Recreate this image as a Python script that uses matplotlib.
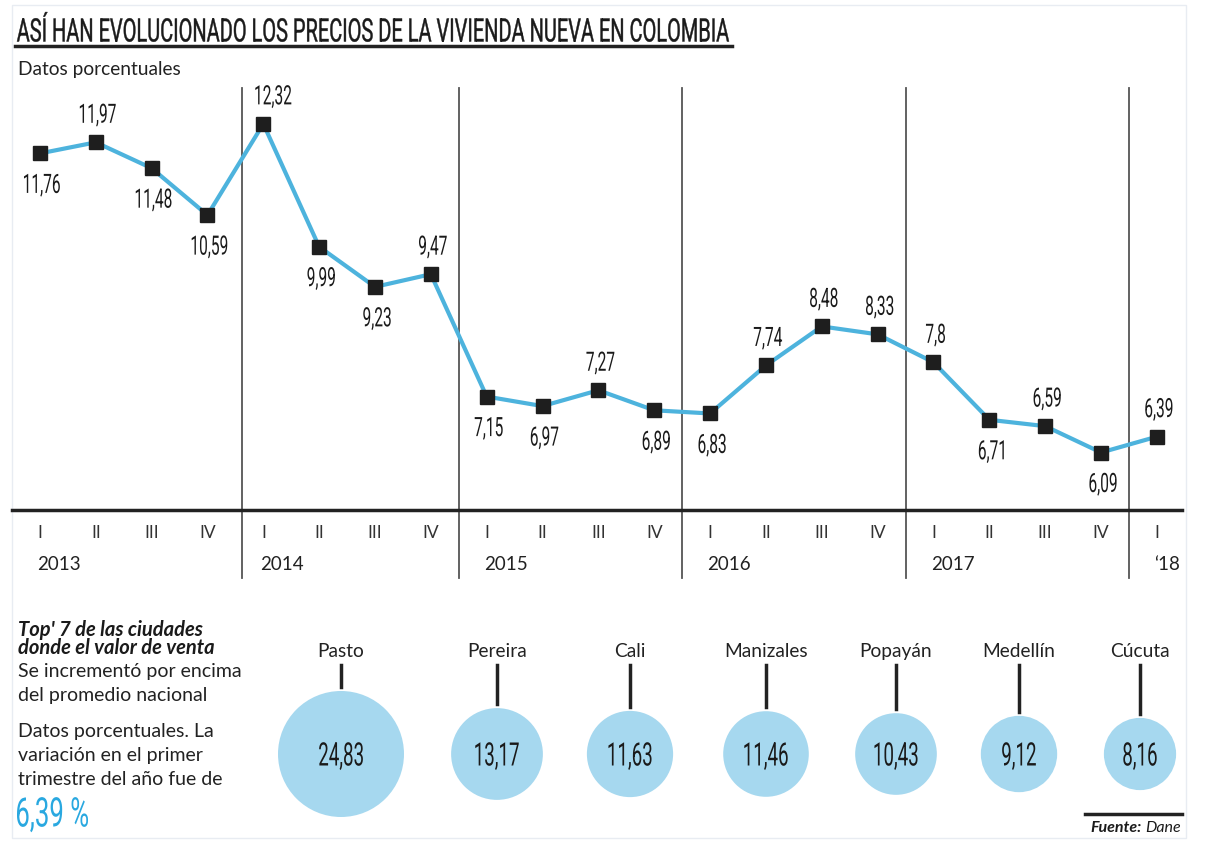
import matplotlib
matplotlib.use("Agg")
import matplotlib.pyplot as plt
from matplotlib.patches import Circle, PathPatch
from matplotlib.textpath import TextPath
from matplotlib.font_manager import FontProperties
from matplotlib.transforms import Affine2D
import numpy as np

# quarterly variation, new housing prices (%)
quarters = ['I', 'II', 'III', 'IV'] * 5 + ['I']
years = ['2013', '2014', '2015', '2016', '2017', '\u201818']
values = [11.76, 11.97, 11.48, 10.59, 12.32, 9.99, 9.23, 9.47, 7.15, 6.97,
          7.27, 6.89, 6.83, 7.74, 8.48, 8.33, 7.8, 6.71, 6.59, 6.09, 6.39]
labels = ['11,76', '11,97', '11,48', '10,59', '12,32', '9,99', '9,23', '9,47', '7,15', '6,97',
          '7,27', '6,89', '6,83', '7,74', '8,48', '8,33', '7,8', '6,71', '6,59', '6,09', '6,39']
above = [False, True, False, False, True, False, False, True, False, False,
         True, False, False, True, True, True, True, False, True, False, True]

# top 7 cities
cities = ['Pasto', 'Pereira', 'Cali', 'Manizales', 'Popayán', 'Medellín', 'Cúcuta']
city_values = [24.83, 13.17, 11.63, 11.46, 10.43, 9.12, 8.16]
city_labels = ['24,83', '13,17', '11,63', '11,46', '10,43', '9,12', '8,16']

SANS = ['Lato', 'DejaVu Sans']
BLUE = '#4DB3DD'
BUBBLE = '#A6D8EF'
INK = '#1a1a1a'

W, H = 1207, 863
fig = plt.figure(figsize=(W / 100, H / 100), dpi=100)

# background layer in pixel coords (y goes down)
bg = fig.add_axes([0, 0, 1, 1])
bg.set_xlim(0, W)
bg.set_ylim(H, 0)
bg.axis('off')


# condensed text: squeeze a Roboto text path horizontally
def cond_text(x, y, s, cap, color=INK, ha='center', sx=0.58, width=None, lw=0.0):
    em = cap / 0.711
    tp = TextPath((0, 0), s, size=em, prop=FontProperties(family='Roboto'))
    ext = tp.get_extents()
    k = sx if width is None else width / ext.width
    if ha == 'center':
        ox = -(ext.x0 + ext.width / 2) * k
    elif ha == 'left':
        ox = -ext.x0 * k
    else:
        ox = -ext.x1 * k
    tr = Affine2D().scale(k, -1).translate(x + ox, y + cap / 2)
    bg.add_patch(PathPatch(tr.transform_path(tp), fc=color, ec=color, lw=lw, zorder=5))


bg.add_patch(plt.Rectangle((12, 5), 1174, 833, fill=False, ec='#E8ECF2', lw=1))

cond_text(17, 30, 'ASÍ HAN EVOLUCIONADO LOS PRECIOS DE LA VIVIENDA NUEVA EN COLOMBIA',
          23, ha='left', width=712, lw=0.3)
bg.plot([15, 732], [46, 46], color='#222222', lw=2.5)
bg.text(18, 70, 'Datos porcentuales', family=SANS, fontsize=13.8, color='#222', va='center')

# line chart
ax = fig.add_axes([12 / W, 1 - 510 / H, 1170 / W, 422 / H])
x = np.arange(len(values))
ax.plot(x, values, color=BLUE, lw=3, zorder=2)
ax.plot(x, values, ls='none', marker='s', ms=9.5, color='#1e1e1e', zorder=3)
ax.set_xlim(-0.5, 20.45)
ax.set_ylim(5, 13)
for s in ['top', 'left', 'right']:
    ax.spines[s].set_visible(False)
ax.spines['bottom'].set_linewidth(2.5)
ax.spines['bottom'].set_color('#222222')
ax.set_xticks([])
ax.set_yticks([])
ax.patch.set_alpha(0)

# data labels placed in pixel space from the axes' own transform
for i, (v, lab, up) in enumerate(zip(values, labels, above)):
    px, py = ax.transData.transform((i, v))
    py = H - py
    dx = 10 if i == 4 else 2
    dy = -29 if up else 30
    cond_text(px + dx, py + dy, lab, 19)

for i, q in enumerate(quarters):
    ax.text(i, -0.055, q, transform=ax.get_xaxis_transform(), ha='center', va='center',
            family=SANS, fontsize=12.5, color='#333333')

for k, yr in enumerate(years):
    ax.text(4 * k - 0.05, -0.13, yr, transform=ax.get_xaxis_transform(), ha='left', va='center',
            family=SANS, fontsize=13.5, color='#222222')

for k in range(5):
    xd = 4 * k + 3.5 + (0.12 if k == 0 else 0)
    ax.axvline(xd, ymin=-0.161, ymax=1, color='#555555', lw=1.3, clip_on=False, zorder=1)

# left text block
for yy, line in [(630, "Top' 7 de las ciudades"), (648, 'donde el valor de venta')]:
    bg.text(18, yy, line, family=SANS, fontsize=14.5, weight='bold',
            style='italic', color=INK, va='center')
for yy, line in [(671, 'Se incrementó por encima'), (695, 'del promedio nacional'),
                 (731, 'Datos porcentuales. La'), (755, 'variación en el primer'),
                 (779, 'trimestre del año fue de')]:
    bg.text(18, yy, line, family=SANS, fontsize=14, color='#222', va='center')
cond_text(17, 812, '6,39 %', 29, color='#29A8E0', ha='left', width=71)

# bubbles, area proportional to value
city_x = [341, 497, 630, 766, 896, 1019, 1140]
cy = 754
r_max = 63
for cx, name, v, lab in zip(city_x, cities, city_values, city_labels):
    r = r_max * np.sqrt(v / max(city_values))
    bg.add_patch(Circle((cx, cy), r, color=BUBBLE, ec='none'))
    cond_text(cx, cy, lab, 23)
    bg.text(cx, 651, name, family=SANS, fontsize=13.8, color='#222', ha='center', va='center')
    bg.plot([cx, cx], [665, cy - r - 4], color='#222222', lw=2.5)

# source
bg.plot([1085, 1182], [814, 814], color='#222222', lw=2.5)
bg.text(1142, 828, 'Fuente:', family=SANS, fontsize=11.5, weight='bold', style='italic',
        color=INK, ha='right', va='center')
bg.text(1145, 828, 'Dane', family=SANS, fontsize=11.5, style='italic',
        color=INK, ha='left', va='center')

fig.savefig('out.png', dpi=100, facecolor='white')
